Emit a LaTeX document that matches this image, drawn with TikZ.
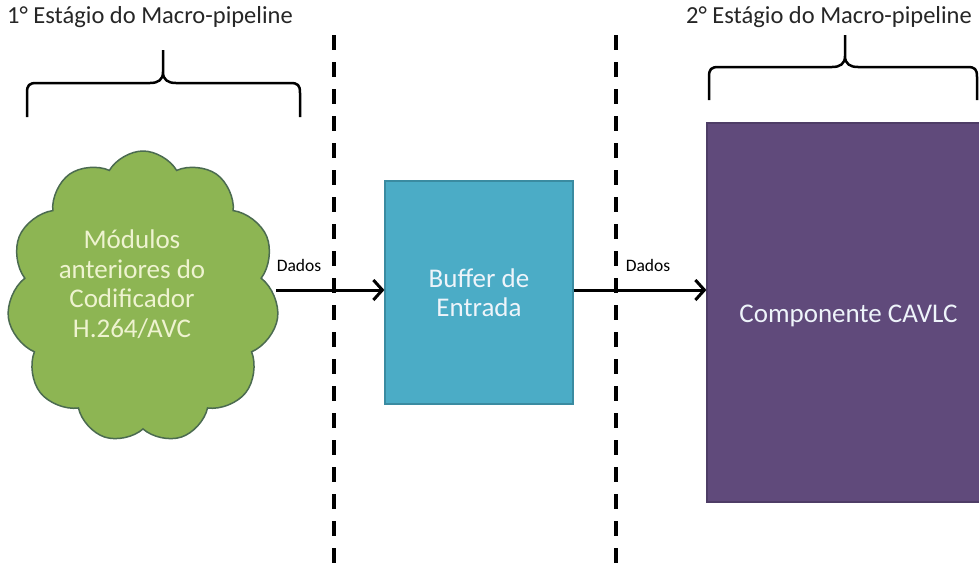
\documentclass[tikz,border=0pt]{standalone}
\usepackage{fontspec}
\setmainfont{Carlito}
\usetikzlibrary{shapes.symbols,arrows.meta}

\definecolor{cloudfill}{HTML}{8DB553}
\definecolor{cloudline}{HTML}{4B6B50}
\definecolor{buffill}{HTML}{4BACC6}
\definecolor{bufline}{HTML}{3A8BA1}
\definecolor{cavfill}{HTML}{604A7B}
\definecolor{cavline}{HTML}{4E3D66}
\definecolor{cloudtext}{HTML}{EEF3D0}
\definecolor{boxtext}{HTML}{EEF4FA}

\begin{document}
\begin{tikzpicture}[x=1pt,y=-1pt,
  title/.style={font=\fontsize{24.5}{28}\selectfont, text=black!85, inner sep=0pt},
  bodytext/.style={font=\fontsize{27}{29.5}\selectfont, align=center},
  flow/.style={line width=3pt, -{Straight Barb[length=9pt,width=20pt]}},
  flowlabel/.style={font=\fontsize{17.5}{20}\selectfont, inner sep=0pt},
  bracepath/.style={line width=2.5pt, line join=round},
  stagesep/.style={line width=4pt, dash pattern=on 15pt off 12pt}]

\useasboundingbox[fill=white] (0,0) rectangle (979,565);

% stage boundaries
\draw[stagesep] (334,35) -- (334,565);
\draw[stagesep] (616,35) -- (616,565);

% stage titles
\node[title] (t1) at (150,17) {1° Estágio do Macro-pipeline};
\node[title] (t2) at (829,17) {2° Estágio do Macro-pipeline};

% braces under the titles
\draw[bracepath] (27,117) -- (27,93) .. controls (27,85) and (29,83) .. (37,83)
  -- (150,83) .. controls (158,83) and (163,80) .. (163,72) -- (163,50)
  (163,72) .. controls (163,80) and (168,83) .. (176,83)
  -- (290,83) .. controls (298,83) and (300,85) .. (300,93) -- (300,117);
\draw[bracepath] (709,100) -- (709,77) .. controls (709,69) and (711,67) .. (719,67)
  -- (832,67) .. controls (840,67) and (845,64) .. (845,56) -- (845,35)
  (845,56) .. controls (845,64) and (850,67) .. (858,67)
  -- (967,67) .. controls (975,67) and (977,69) .. (977,77) -- (977,100);

% blocks
\node[cloud, cloud puffs=11, cloud puff arc=120, minimum width=272pt, minimum height=292pt,
      fill=cloudfill, draw=cloudline, line width=1.5pt, inner sep=0pt] (mod) at (143,297) {};
\node[text=cloudtext, bodytext, xshift=-11pt, yshift=13pt] (modtext) at (mod.center)
      {Módulos\\anteriores do\\Codificador\\H.264/AVC};

\node[rectangle, minimum width=188pt, minimum height=223pt, fill=buffill, draw=bufline,
      line width=1.2pt, text=boxtext, bodytext] (buf) at (479,292.5)
      {Buffer de\\Entrada};

\node[rectangle, minimum width=283pt, minimum height=379pt, fill=cavfill, draw=cavline,
      line width=1.2pt, text=boxtext, bodytext] (cav) at (848.5,312.5) {};
\node[text=boxtext, bodytext, yshift=-3pt] (cavtext) at (cav.center) {Componente CAVLC};

% data flow
\draw[flow] (mod.east |- 0,290) -- (buf.west |- 0,290);
\draw[flow] (buf.east |- 0,290) -- (cav.west |- 0,290);
\node[flowlabel] (d1) at (299,265) {Dados};
\node[flowlabel] (d2) at (648,265) {Dados};

\end{tikzpicture}
\end{document}
